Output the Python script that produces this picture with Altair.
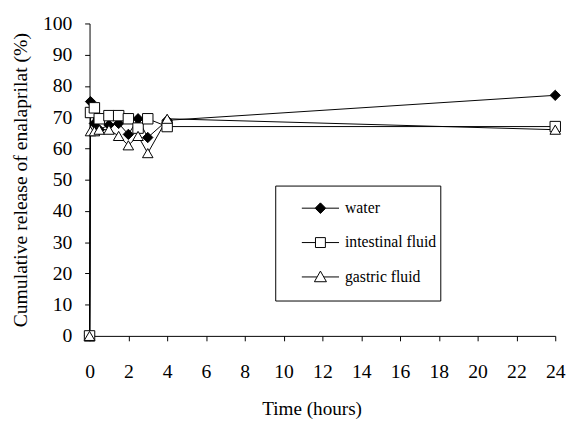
import altair as alt
import pandas as pd

times = [0, 0.05, 0.25, 0.5, 1, 1.5, 2, 2.5, 3, 4, 24]
water = [0, 75, 68, 66, 67.5, 68, 64.5, 69.5, 63.5, 69, 77]
intestinal = [0, 71.5, 73, 69.5, 70.5, 70.5, 69.5, 66.5, 69.5, 67, 67]
gastric = [0, 65.5, 65.5, 66, 66, 64, 61, 64, 58.5, 69.5, 66]

series_names = ["water", "intestinal fluid", "gastric fluid"]
x_ticks = list(range(0, 25, 2))
y_ticks = list(range(0, 101, 10))

rows = []
for name, vals in zip(series_names, [water, intestinal, gastric]):
    for t, v in zip(times, vals):
        rows.append({"time": t, "release": v, "series": name})
df = pd.DataFrame(rows)

FONT = "Liberation Serif"

x_enc = alt.X("time:Q", scale=alt.Scale(domain=[0, 24], nice=False, zero=False),
              axis=alt.Axis(values=x_ticks, title="Time (hours)", labelPadding=21,
                            labelFlush=False,
                            titleX=226, titleY=80, titleBaseline="alphabetic",
                            titleAnchor="start", titleAlign="center",
                            titleFontSize=19.5))
y_enc = alt.Y("release:Q", scale=alt.Scale(domain=[0, 100], nice=False),
              axis=alt.Axis(values=y_ticks, title="Cumulative release of enalaprilat (%)",
                            labelPadding=13, titlePadding=12, labelFlush=False,
                            titleFontSize=20))

base = alt.Chart(df)

lines = base.mark_line(color="black", strokeWidth=1).encode(
    x=x_enc, y=y_enc, detail="series:N"
)

points = base.mark_point(strokeWidth=1, opacity=1, stroke="black").encode(
    x=x_enc, y=y_enc,
    shape=alt.Shape("series:N", scale=alt.Scale(domain=series_names,
                    range=["diamond", "square", "triangle-up"]), legend=None),
    fill=alt.Fill("series:N", scale=alt.Scale(domain=series_names,
                  range=["black", "white", "white"]), legend=None),
    size=alt.Size("series:N", scale=alt.Scale(domain=series_names,
                  range=[110, 115, 150]), legend=None),
)

legend_paths = [
    "M-1.05,0H-0.3M0.3,0H1.05M0,-0.3L0.3,0L0,0.3L-0.3,0Z",
    "M-1.05,0H-0.28M0.28,0H1.05M-0.28,-0.28H0.28V0.28H-0.28Z",
    "M-1.05,0H-0.2M0.2,0H1.05M0,-0.33L0.34,0.27H-0.34Z M0,0.95",
]

legend_props = dict(title=None, orient="none", legendX=189, legendY=165,
                    symbolOpacity=1, symbolSize=1300,
                    symbolStrokeWidth=1,
                    labelFont=FONT, labelFontSize=16, labelColor="black",
                    labelOffset=6, symbolOffset=23,
                    padding=4, rowPadding=8,
                    strokeColor="black", fillColor="white", cornerRadius=0)

legend_layer = base.mark_point(opacity=0, strokeWidth=1).encode(
    x=x_enc, y=y_enc,
    shape=alt.Shape("series:N", scale=alt.Scale(domain=series_names, range=legend_paths),
                    legend=alt.Legend(**legend_props)),
    fill=alt.Fill("series:N", scale=alt.Scale(domain=series_names,
                  range=["black", "white", "white"]),
                  legend=alt.Legend(**legend_props)),
    stroke=alt.Stroke("series:N", scale=alt.Scale(domain=series_names,
                      range=["black", "black", "black"]),
                      legend=alt.Legend(**legend_props)),
)

chart = alt.layer(lines, points, legend_layer).resolve_scale(
    shape="independent", fill="independent", stroke="independent"
).properties(
    width=474, height=318,
    autosize=alt.AutoSizeParams(type="none"),
    padding={"left": 83, "top": 12, "right": 14, "bottom": 90},
).configure_view(stroke=None).configure_axis(
    grid=False, domainColor="black", domainWidth=1, tickColor="black", tickSize=5,
    labelFont=FONT, labelFontSize=20, labelColor="black",
    titleFont=FONT, titleFontSize=18, titleFontWeight="normal", titleColor="black",
)

chart.save("out.html", embed_options={"renderer": "svg", "actions": False})
